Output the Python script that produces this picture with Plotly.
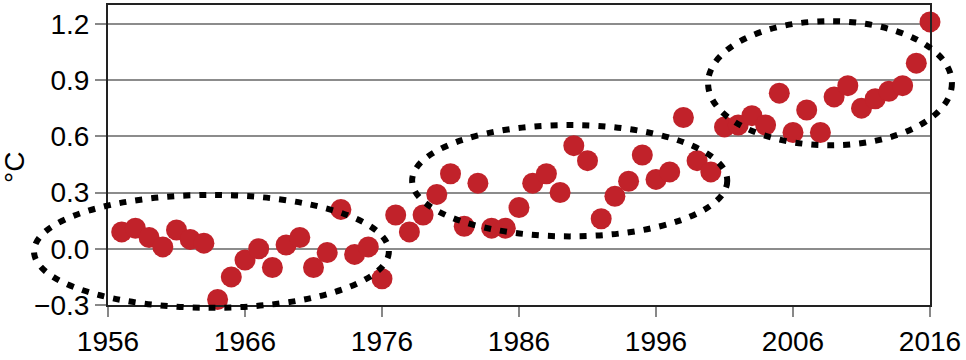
import plotly.graph_objects as go

years = list(range(1957, 2017))
anomaly = [0.09, 0.11, 0.06, 0.01, 0.10, 0.05, 0.03, -0.27, -0.15, -0.06,
           0.00, -0.10, 0.02, 0.06, -0.10, -0.02, 0.21, -0.03, 0.01, -0.16,
           0.18, 0.09, 0.18, 0.29, 0.40, 0.12, 0.35, 0.11, 0.11, 0.22,
           0.35, 0.40, 0.30, 0.55, 0.47, 0.16, 0.28, 0.36, 0.50, 0.37,
           0.41, 0.70, 0.47, 0.41, 0.65, 0.66, 0.71, 0.66, 0.83, 0.62,
           0.74, 0.62, 0.81, 0.87, 0.75, 0.80, 0.84, 0.87, 0.99, 1.21]

x_ticks = [1956, 1966, 1976, 1986, 1996, 2006, 2016]
y_ticks = [-0.3, 0.0, 0.3, 0.6, 0.9, 1.2]
y_tick_text = ["\u22120.3", "0.0", "0.3", "0.6", "0.9", "1.2"]

x_range = [1956, 2016]
y_range = [-0.3, 1.3]

# highlighted groups: (x0, x1, y0, y1) in data units
ellipses = [(1950.6, 1976.5, -0.315, 0.287),
            (1978.2, 2001.2, 0.066, 0.66),
            (1999.8, 2017.6, 0.552, 1.214)]

red = "#C1222A"
font = "Liberation Sans, Arial, sans-serif"

fig = go.Figure()
fig.add_trace(go.Scatter(
    x=years, y=anomaly, mode="markers",
    marker=dict(size=21, color=red, line=dict(width=0)),
    cliponaxis=False, showlegend=False, hoverinfo="x+y"))

def px(v):
    return (v - x_range[0]) / (x_range[1] - x_range[0])

def py(v):
    return (v - y_range[0]) / (y_range[1] - y_range[0])

for (x0, x1, y0, y1) in ellipses:
    fig.add_shape(type="circle", xref="paper", yref="paper",
                  x0=px(x0), x1=px(x1), y0=py(y0), y1=py(y1),
                  line=dict(color="black", width=6, dash="7px,9px"),
                  layer="above")

fig.add_annotation(text="\u00b0C", xref="paper", yref="paper",
                   x=-0.1144, y=0.46, xanchor="center", yanchor="middle",
                   textangle=-90, showarrow=False,
                   font=dict(family=font, size=28, color="black"))

fig.update_layout(
    width=966, height=360,
    margin=dict(l=108, r=36, t=3, b=55, pad=0),
    paper_bgcolor="white", plot_bgcolor="white",
    font=dict(family=font, size=28, color="black"),
    xaxis=dict(range=x_range, tickvals=x_ticks, ticks="outside", ticklen=10,
               tickcolor="#888888", tickwidth=2, showgrid=False, zeroline=False,
               showline=True, linecolor="#222222", linewidth=2, mirror=True,
               tickfont=dict(size=28)),
    yaxis=dict(range=y_range, tickvals=y_ticks, ticktext=y_tick_text,
               ticks="outside", ticklen=11, tickcolor="#888888", tickwidth=2,
               showgrid=True, gridcolor="#8c8c8c", gridwidth=2, zeroline=False,
               showline=True, linecolor="#222222", linewidth=2, mirror=True,
               tickfont=dict(size=28)),
)

fig.write_html("out.html")
